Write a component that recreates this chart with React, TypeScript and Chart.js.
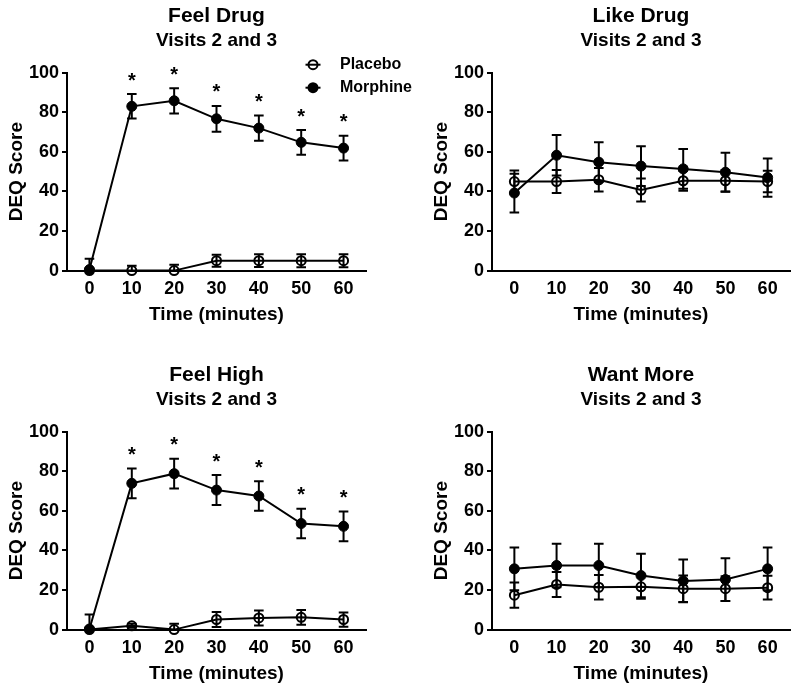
import React, { useEffect, useRef } from "react";
import { Chart, registerables } from "chart.js";

Chart.register(...registerables);

// ---------- data ----------
const TIMES = [0, 10, 20, 30, 40, 50, 60];
const X_TICKS = [0, 10, 20, 30, 40, 50, 60];
const Y_TICKS = [0, 20, 40, 60, 80, 100];
const SUBTITLE = "Visits 2 and 3";
const SERIES_NAMES = ["Placebo", "Morphine"];
const X_TITLE = "Time (minutes)";
const Y_TITLE = "DEQ Score";

const feelDrugPlacebo = [0, 0, 0, 5, 5, 5, 5];
const feelDrugPlaceboErr = [1, 2.4, 2.9, 3, 3.2, 3.3, 3.3];
const feelDrugMorphine = [0.5, 83, 85.8, 76.7, 72, 64.8, 61.9];
const feelDrugMorphineErr = [5.5, 6.2, 6.4, 6.5, 6.4, 6.2, 6.3];
const feelDrugStars = [false, true, true, true, true, true, true];

const likeDrugPlacebo = [45, 45, 45.9, 40.7, 45.4, 45.4, 45];
const likeDrugPlaceboErr = [5.6, 5.8, 5.9, 5.8, 5, 5.4, 5.4];
const likeDrugMorphine = [39.2, 58.3, 54.8, 52.8, 51.4, 49.7, 47];
const likeDrugMorphineErr = [9.8, 10.2, 10, 10, 10, 9.8, 9.7];
const likeDrugStars = [false, false, false, false, false, false, false];

const feelHighPlacebo = [0, 1.9, 0, 5.1, 5.9, 6.2, 5.1];
const feelHighPlaceboErr = [1, 1, 3, 3.8, 3.8, 3.7, 3.6];
const feelHighMorphine = [0.3, 73.9, 78.8, 70.5, 67.5, 53.6, 52.2];
const feelHighMorphineErr = [7.3, 7.5, 7.5, 7.6, 7.5, 7.5, 7.5];
const feelHighStars = [false, true, true, true, true, true, true];

const wantMorePlacebo = [17.4, 22.8, 21.4, 21.6, 20.7, 20.7, 21.2];
const wantMorePlaceboErr = [6.4, 6.3, 6.2, 6, 6.7, 6.3, 6];
const wantMoreMorphine = [30.7, 32.4, 32.4, 27.3, 24.6, 25.3, 30.7];
const wantMoreMorphineErr = [10.8, 11, 11, 11, 10.8, 10.8, 10.8];
const wantMoreStars = [false, false, false, false, false, false, false];

const FONT = "'Liberation Sans', Arial, Helvetica, sans-serif";
const INK = "#000";

type PanelProps = {
  title: string;
  placebo: number[];
  placeboErr: number[];
  morphine: number[];
  morphineErr: number[];
  stars: boolean[];
  legend: boolean;
  left: number;
  top: number;
  width: number;
  padRight: number;
};

const CANVAS_H = 331;

function Panel(props: PanelProps) {
  const ref = useRef<HTMLCanvasElement>(null);
  useEffect(() => {
    const { title, placebo, placeboErr, morphine, morphineErr, stars, legend, padRight } = props;

    const errorBars = {
      id: "errorBars",
      beforeDatasetsDraw(chart: any) {
        const ctx = chart.ctx;
        const yScale = chart.scales.y;
        const yMin = yScale.min;
        ctx.save();
        ctx.strokeStyle = INK;
        ctx.lineWidth = 2;
        chart.data.datasets.forEach((ds: any, di: number) => {
          const meta = chart.getDatasetMeta(di);
          meta.data.forEach((pt: any, i: number) => {
            const v = ds.data[i].y;
            const e = ds.errors[i];
            const yTop = yScale.getPixelForValue(v + e);
            const yBot = yScale.getPixelForValue(Math.max(yMin, v - e));
            const x = pt.x;
            ctx.beginPath();
            ctx.moveTo(x, yTop);
            ctx.lineTo(x, yBot);
            ctx.moveTo(x - 4.8, yTop);
            ctx.lineTo(x + 4.8, yTop);
            if (v - e > yMin) {
              ctx.moveTo(x - 4.8, yBot);
              ctx.lineTo(x + 4.8, yBot);
            }
            ctx.stroke();
          });
        });
        ctx.restore();
      },
      afterDatasetsDraw(chart: any) {
        const ctx = chart.ctx;
        const yScale = chart.scales.y;
        const ds = chart.data.datasets[1];
        const meta = chart.getDatasetMeta(1);
        ctx.save();
        ctx.fillStyle = INK;
        ctx.textAlign = "center";
        ctx.textBaseline = "alphabetic";
        ctx.font = `bold 20px ${FONT}`;
        const m = ctx.measureText("*");
        const centerAbove = (m.actualBoundingBoxAscent - m.actualBoundingBoxDescent) / 2;
        meta.data.forEach((pt: any, i: number) => {
          if (!stars[i]) return;
          const v = ds.data[i].y;
          const e = ds.errors[i];
          const yc = yScale.getPixelForValue(v + e) - 17.5;
          ctx.fillText("*", pt.x, yc + centerAbove);
        });
        ctx.restore();
      },
    };

    const legendPlugin = {
      id: "customLegend",
      afterDraw(chart: any) {
        if (!legend) return;
        const ctx = chart.ctx;
        const area = chart.chartArea;
        const mx = area.right - 53;
        const rows = [area.top - 8, area.top + 15];
        ctx.save();
        rows.forEach((y, i) => {
          ctx.strokeStyle = INK;
          ctx.lineWidth = 2;
          ctx.beginPath();
          ctx.moveTo(mx - 7.5, y);
          ctx.lineTo(mx + 7.5, y);
          ctx.stroke();
          ctx.beginPath();
          if (i === 0) {
            ctx.arc(mx, y, 4.5, 0, Math.PI * 2);
            ctx.lineWidth = 2;
            ctx.stroke();
          } else {
            ctx.arc(mx, y, 5.5, 0, Math.PI * 2);
            ctx.fillStyle = INK;
            ctx.fill();
          }
          ctx.fillStyle = INK;
          ctx.font = `bold 16px ${FONT}`;
          ctx.textAlign = "left";
          ctx.textBaseline = "middle";
          ctx.fillText(SERIES_NAMES[i], mx + 27, y);
        });
        ctx.restore();
      },
    };

    const toPts = (vals: number[]) => TIMES.map((t, i) => ({ x: t, y: vals[i] }));

    const chart = new Chart(ref.current as HTMLCanvasElement, {
      type: "line",
      data: {
        datasets: [
          {
            label: SERIES_NAMES[0],
            data: toPts(placebo),
            errors: placeboErr,
            borderColor: INK,
            borderWidth: 2,
            pointRadius: 4.5,
            pointBorderWidth: 2,
            pointBackgroundColor: "rgba(0,0,0,0)",
            pointBorderColor: INK,
            tension: 0,
            clip: false,
          } as any,
          {
            label: SERIES_NAMES[1],
            data: toPts(morphine),
            errors: morphineErr,
            borderColor: INK,
            borderWidth: 2,
            pointRadius: 5,
            pointBorderWidth: 1,
            pointBackgroundColor: INK,
            pointBorderColor: INK,
            tension: 0,
            clip: false,
          } as any,
        ],
      },
      options: {
        animation: false,
        responsive: false,
        events: [],
        layout: { padding: { left: 5, right: padRight, top: 0, bottom: 5 } },
        plugins: {
          legend: { display: false },
          tooltip: { enabled: false },
          title: {
            display: true,
            text: title,
            color: INK,
            fullSize: false,
            font: { family: FONT, size: 21, weight: "bold" },
            padding: { top: 4, bottom: 0 },
          },
          subtitle: {
            display: true,
            text: SUBTITLE,
            color: INK,
            fullSize: false,
            font: { family: FONT, size: 19, weight: "bold" },
            padding: { top: 0, bottom: 20.7 },
          },
        },
        scales: {
          x: {
            type: "linear",
            min: -5.3,
            max: 65.3,
            afterBuildTicks: (scale: any) => {
              scale.ticks = X_TICKS.map((v) => ({ value: v }));
            },
            afterFit: (scale: any) => {
              scale.height = 55.4;
            },
            grid: { display: false, drawTicks: false },
            border: { display: true, color: INK, width: 2 },
            ticks: {
              color: INK,
              padding: 8,
              maxRotation: 0,
              font: { family: FONT, size: 18, weight: "bold" },
            },
            title: {
              display: true,
              text: X_TITLE,
              color: INK,
              padding: 0,
              font: { family: FONT, size: 19, weight: "bold" },
            },
          },
          y: {
            type: "linear",
            min: 0,
            max: 100,
            afterBuildTicks: (scale: any) => {
              scale.ticks = Y_TICKS.map((v) => ({ value: v }));
            },
            afterFit: (scale: any) => {
              scale.width = 62;
            },
            grid: {
              display: true,
              drawOnChartArea: false,
              drawTicks: true,
              tickLength: 5,
              color: INK,
              lineWidth: 2,
            },
            border: { display: true, color: INK, width: 2 },
            ticks: {
              color: INK,
              padding: 3,
              font: { family: FONT, size: 18, weight: "bold" },
            },
            title: {
              display: true,
              text: Y_TITLE,
              color: INK,
              padding: 0,
              font: { family: FONT, size: 19, weight: "bold" },
            },
          },
        },
      } as any,
      plugins: [errorBars, legendPlugin],
    });
    return () => chart.destroy();
  }, []);

  return (
    <canvas
      ref={ref}
      width={props.width}
      height={CANVAS_H}
      style={{ position: "absolute", left: props.left, top: props.top, width: props.width, height: CANVAS_H }}
    />
  );
}

export default function App() {
  return (
    <div style={{ position: "fixed", left: 0, top: 0, width: 800, height: 690, background: "#fff", overflow: "hidden" }}>
      <Panel
        title="Feel Drug"
        placebo={feelDrugPlacebo}
        placeboErr={feelDrugPlaceboErr}
        morphine={feelDrugMorphine}
        morphineErr={feelDrugMorphineErr}
        stars={feelDrugStars}
        legend={true}
        left={0}
        top={0}
        width={425}
        padRight={59}
      />
      <Panel
        title="Like Drug"
        placebo={likeDrugPlacebo}
        placeboErr={likeDrugPlaceboErr}
        morphine={likeDrugMorphine}
        morphineErr={likeDrugMorphineErr}
        stars={likeDrugStars}
        legend={false}
        left={425}
        top={0}
        width={375}
        padRight={10}
      />
      <Panel
        title="Feel High"
        placebo={feelHighPlacebo}
        placeboErr={feelHighPlaceboErr}
        morphine={feelHighMorphine}
        morphineErr={feelHighMorphineErr}
        stars={feelHighStars}
        legend={false}
        left={0}
        top={359}
        width={425}
        padRight={59}
      />
      <Panel
        title="Want More"
        placebo={wantMorePlacebo}
        placeboErr={wantMorePlaceboErr}
        morphine={wantMoreMorphine}
        morphineErr={wantMoreMorphineErr}
        stars={wantMoreStars}
        legend={false}
        left={425}
        top={359}
        width={375}
        padRight={10}
      />
    </div>
  );
}
